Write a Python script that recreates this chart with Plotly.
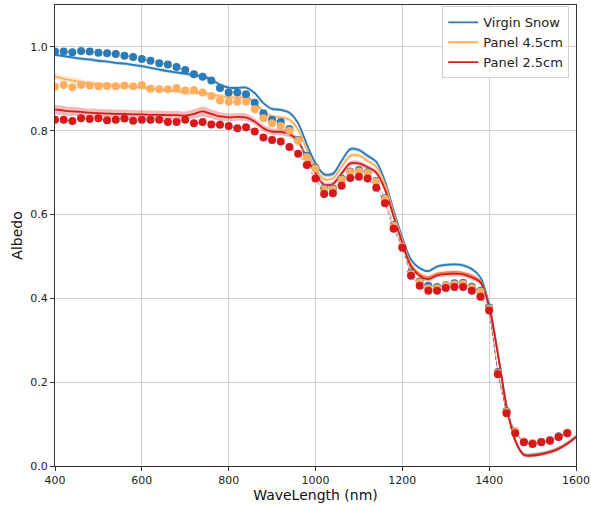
import plotly.graph_objects as go

# ---------------- data ----------------
wl_line = list(range(400, 1601, 20))
wl_dots = list(range(400, 1581, 20))

virgin_line = [0.981, 0.978, 0.975, 0.972, 0.970, 0.967, 0.965, 0.962, 0.960, 0.957,
               0.954, 0.950, 0.946, 0.942, 0.939, 0.936, 0.932, 0.930, 0.922, 0.910,
               0.903, 0.902, 0.903, 0.890, 0.866, 0.852, 0.850, 0.843, 0.818, 0.768,
               0.722, 0.696, 0.697, 0.728, 0.756, 0.754, 0.740, 0.726, 0.680, 0.610,
               0.545, 0.492, 0.472, 0.465, 0.476, 0.480, 0.481, 0.479, 0.470, 0.450,
               0.385, 0.270, 0.145, 0.062, 0.028, 0.027, 0.030, 0.035, 0.043, 0.055,
               0.071]
p45_line = [0.929, 0.924, 0.920, 0.916, 0.913, 0.911, 0.909, 0.907, 0.906, 0.905,
            0.903, 0.901, 0.899, 0.896, 0.894, 0.892, 0.890, 0.890, 0.886, 0.883,
            0.880, 0.879, 0.879, 0.867, 0.846, 0.834, 0.832, 0.826, 0.803, 0.755,
            0.710, 0.684, 0.686, 0.714, 0.740, 0.741, 0.728, 0.714, 0.672, 0.603,
            0.538, 0.481, 0.459, 0.451, 0.459, 0.462, 0.463, 0.461, 0.455, 0.440,
            0.382, 0.268, 0.143, 0.061, 0.027, 0.026, 0.029, 0.034, 0.042, 0.054,
            0.070]
p25_line = [0.851, 0.848, 0.846, 0.845, 0.843, 0.842, 0.841, 0.840, 0.840, 0.839,
            0.839, 0.838, 0.838, 0.837, 0.837, 0.836, 0.840, 0.846, 0.840, 0.834,
            0.832, 0.833, 0.832, 0.822, 0.806, 0.798, 0.797, 0.792, 0.775, 0.735,
            0.699, 0.671, 0.673, 0.698, 0.722, 0.722, 0.713, 0.700, 0.660, 0.595,
            0.532, 0.476, 0.454, 0.446, 0.455, 0.458, 0.459, 0.457, 0.450, 0.438,
            0.380, 0.267, 0.142, 0.060, 0.026, 0.025, 0.028, 0.033, 0.041, 0.053,
            0.069]

virgin_std = [0.004] * 30 + [0.005] * 12 + [0.004] * 19
p45_std = [0.008, 0.007, 0.007, 0.007, 0.006, 0.006, 0.006, 0.006, 0.006, 0.006,
           0.006, 0.005, 0.005, 0.005, 0.005, 0.005, 0.005, 0.005, 0.005, 0.005] + [0.005] * 30 + [0.004] * 11
p25_std = [0.011, 0.011, 0.011, 0.010, 0.010, 0.010, 0.010, 0.010, 0.010, 0.010,
           0.010, 0.010, 0.010, 0.010, 0.010, 0.010, 0.011, 0.012, 0.011, 0.010,
           0.009, 0.009, 0.009, 0.008, 0.008, 0.008, 0.008, 0.008] + [0.006] * 22 + [0.004] * 11

virgin_dots = [0.989, 0.989, 0.987, 0.990, 0.989, 0.986, 0.985, 0.983, 0.979, 0.976,
               0.971, 0.967, 0.961, 0.958, 0.952, 0.945, 0.935, 0.929, 0.920, 0.902,
               0.891, 0.891, 0.887, 0.867, 0.842, 0.826, 0.821, 0.804, 0.778, 0.740,
               0.712, 0.662, 0.662, 0.686, 0.703, 0.706, 0.701, 0.680, 0.639, 0.575,
               0.524, 0.461, 0.440, 0.430, 0.427, 0.432, 0.436, 0.437, 0.428, 0.418,
               0.378, 0.224, 0.131, 0.082, 0.058, 0.054, 0.058, 0.062, 0.071, 0.079]
p45_dots = [0.905, 0.909, 0.904, 0.909, 0.908, 0.906, 0.907, 0.906, 0.908, 0.906,
            0.909, 0.900, 0.899, 0.899, 0.902, 0.896, 0.897, 0.891, 0.883, 0.872,
            0.869, 0.869, 0.869, 0.851, 0.830, 0.818, 0.811, 0.800, 0.776, 0.737,
            0.710, 0.660, 0.660, 0.683, 0.701, 0.703, 0.699, 0.678, 0.637, 0.573,
            0.523, 0.458, 0.438, 0.424, 0.424, 0.431, 0.433, 0.434, 0.425, 0.416,
            0.375, 0.222, 0.129, 0.083, 0.058, 0.054, 0.057, 0.061, 0.070, 0.080]
p25_dots = [0.826, 0.826, 0.823, 0.830, 0.828, 0.830, 0.825, 0.826, 0.829, 0.824,
            0.826, 0.826, 0.826, 0.821, 0.821, 0.826, 0.818, 0.821, 0.815, 0.814,
            0.811, 0.806, 0.808, 0.798, 0.784, 0.778, 0.774, 0.761, 0.745, 0.718,
            0.686, 0.649, 0.651, 0.669, 0.687, 0.690, 0.686, 0.664, 0.627, 0.566,
            0.521, 0.454, 0.430, 0.418, 0.418, 0.425, 0.427, 0.427, 0.418, 0.404,
            0.371, 0.219, 0.126, 0.078, 0.0565, 0.0525, 0.0565, 0.0605, 0.069, 0.078]

series_names = ["Virgin Snow", "Panel 4.5cm", "Panel 2.5cm"]
colors = ["#2c7bb6", "#fdae61", "#d7191c"]
fills = ["rgba(44,123,182,0.3)", "rgba(253,174,97,0.3)", "rgba(215,25,28,0.3)"]
lines = [virgin_line, p45_line, p25_line]
stds = [virgin_std, p45_std, p25_std]
dots = [virgin_dots, p45_dots, p25_dots]

fig = go.Figure()

for name, c, fc, y, s in zip(series_names, colors, fills, lines, stds):
    upper = [a + b for a, b in zip(y, s)]
    lower = [a - b for a, b in zip(y, s)]
    fig.add_trace(go.Scatter(x=wl_line, y=upper, mode="lines", line=dict(width=0, shape="spline", smoothing=0.8),
                             showlegend=False, hoverinfo="skip"))
    fig.add_trace(go.Scatter(x=wl_line, y=lower, mode="lines", line=dict(width=0, shape="spline", smoothing=0.8),
                             fill="tonexty", fillcolor=fc, showlegend=False, hoverinfo="skip"))
    fig.add_trace(go.Scatter(x=wl_line, y=y, mode="lines", name=name,
                             line=dict(color=c, width=1.8, shape="spline", smoothing=0.8)))

for name, c, y in zip(series_names, colors, dots):
    fig.add_trace(go.Scatter(x=wl_dots, y=y, mode="lines+markers", showlegend=False,
                             line=dict(color=c, width=0.7, dash="dot"),
                             marker=dict(color=c, size=8, line=dict(width=0))))

axis_common = dict(showline=True, linecolor="#333333", linewidth=1, mirror=True,
                   ticks="outside", ticklen=4, tickcolor="#333333", automargin=False,
                   showgrid=True, gridcolor="#cfcfcf", gridwidth=1, zeroline=False,
                   tickfont=dict(family="DejaVu Sans", size=11, color="#222222"))

fig.update_xaxes(range=[400, 1600], dtick=200, tick0=400,
                 title=dict(text="WaveLength (nm)", font=dict(family="DejaVu Sans", size=14, color="#111111"), standoff=3),
                 **axis_common)
fig.update_yaxes(range=[0, 1.1], dtick=0.2, tick0=0, tickformat=".1f",
                 title=dict(text="Albedo", font=dict(family="DejaVu Sans", size=14, color="#111111"), standoff=4),
                 **axis_common)

fig.update_layout(
    width=591, height=506,
    margin=dict(l=55, r=15, t=5, b=40),
    plot_bgcolor="white", paper_bgcolor="white",
    font=dict(family="DejaVu Sans", size=12, color="#222222"),
    legend=dict(x=0.987, y=0.997, xanchor="right", yanchor="top", traceorder="normal",
                bgcolor="rgba(255,255,255,0.85)", bordercolor="#d0d0d0", borderwidth=1,
                font=dict(family="DejaVu Sans", size=13), tracegroupgap=0, itemwidth=30),
)

fig.write_html("out.html")
